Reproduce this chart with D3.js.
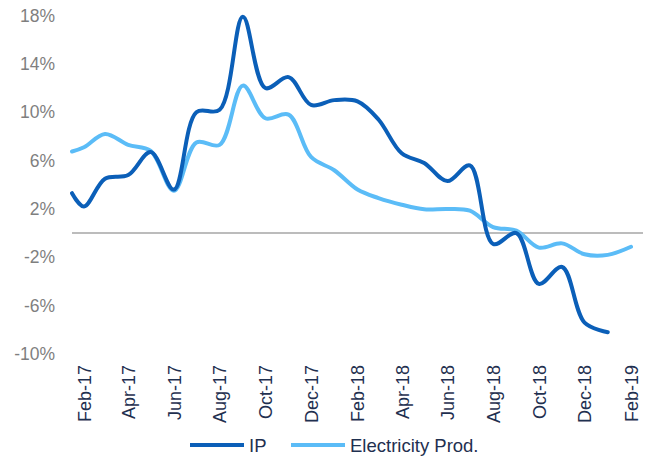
<!DOCTYPE html>
<html lang="en">
<head>
<meta charset="utf-8">
<title>IP vs Electricity Production</title>
<script src="https://cdn.jsdelivr.net/npm/d3@7"></script>
<style>
  body { margin: 0; background: #fff; }
  svg { font-family: Arial, "Liberation Sans", sans-serif; }
  .y.axis text { fill: #7f7f7f; font-size: 17.5px; }
  .x.axis text { fill: #1f3050; font-size: 18px; }
  .axis path, .axis line { display: none; }
  .legend text { fill: #1f3050; font-size: 18.5px; }
</style>
</head>
<body>
<script>
// monthly observations (first point is mid-January 2017)
var dates = ["2017-01-16","2017-02-01","2017-03-01","2017-04-01","2017-05-01","2017-06-01",
  "2017-07-01","2017-08-01","2017-09-01","2017-10-01","2017-11-01","2017-12-01",
  "2018-01-01","2018-02-01","2018-03-01","2018-04-01","2018-05-01","2018-06-01",
  "2018-07-01","2018-08-01","2018-09-01","2018-10-01","2018-11-01","2018-12-01",
  "2019-01-01","2019-02-01"];
var ip = [3.3, 2.2, 4.5, 4.8, 6.7, 3.6, 10.0, 10.2, 17.9, 12.0, 12.9, 10.6,
  11.0, 10.9, 9.4, 6.6, 5.8, 4.3, 5.6, -0.9, 0.0, -4.2, -2.8, -7.4, -8.2, null];
var elec = [6.75, 7.1, 8.2, 7.3, 6.8, 3.5, 7.5, 7.3, 12.2, 9.5, 9.8, 6.3,
  5.2, 3.6, 2.9, 2.35, 1.97, 2.0, 1.85, 0.5, 0.2, -1.2, -0.85, -1.75, -1.8, -1.13];
var yTicks = [-10, -6, -2, 2, 6, 10, 14, 18];
var xTicks = ["2017-02-01","2017-04-01","2017-06-01","2017-08-01","2017-10-01","2017-12-01",
  "2018-02-01","2018-04-01","2018-06-01","2018-08-01","2018-10-01","2018-12-01","2019-02-01"];
var seriesNames = ["IP", "Electricity Prod."];
var colors = ["#0b5fb8", "#5bbcf7"];

var width = 650, height = 458;
var parse = d3.timeParse("%Y-%m-%d");

var svg = d3.select("body").append("svg")
  .attr("width", width)
  .attr("height", height);

var x = d3.scaleTime()
  .domain([parse(dates[0]), parse(dates[dates.length - 1])])
  .range([72, 631]);
var y = d3.scaleLinear()
  .domain([-10, 18])
  .range([354, 15.5]);

// y axis labels
svg.append("g")
  .attr("class", "y axis")
  .attr("transform", "translate(60,0)")
  .call(d3.axisLeft(y).tickValues(yTicks).tickSize(0).tickPadding(5)
    .tickFormat(function(d){ return d + "%"; }));

// zero line
svg.append("line")
  .attr("x1", 72).attr("x2", 643)
  .attr("y1", y(0)).attr("y2", y(0))
  .attr("stroke", "#a6a6a6")
  .attr("stroke-width", 1.5);

// x axis labels, rotated
svg.append("g")
  .attr("class", "x axis")
  .attr("transform", "translate(0,365)")
  .call(d3.axisBottom(x).tickValues(xTicks.map(parse)).tickSize(0)
    .tickFormat(d3.timeFormat("%b-%y")))
  .selectAll("text")
    .attr("transform", "rotate(-90)")
    .attr("x", 0)
    .attr("y", 0)
    .attr("dy", "0.35em")
    .style("text-anchor", "end");

var line = d3.line()
  .defined(function(d){ return d.v != null; })
  .x(function(d){ return x(d.date); })
  .y(function(d){ return y(d.v); })
  .curve(d3.curveCatmullRom.alpha(0.5));

[elec, ip].forEach(function(vals, i){
  var pts = dates.map(function(d, j){ return {date: parse(d), v: vals[j]}; });
  svg.append("path")
    .datum(pts)
    .attr("fill", "none")
    .attr("stroke", i == 0 ? colors[1] : colors[0])
    .attr("stroke-width", 4)
    .attr("stroke-linejoin", "round")
    .attr("stroke-linecap", "round")
    .attr("d", line);
});

// legend
var legend = svg.append("g").attr("class", "legend");
var legX = [190, 291];
seriesNames.forEach(function(name, i){
  legend.append("line")
    .attr("x1", legX[i]).attr("x2", legX[i] + 54)
    .attr("y1", 445).attr("y2", 445)
    .attr("stroke", colors[i])
    .attr("stroke-width", 4);
  legend.append("text")
    .attr("x", legX[i] + 59)
    .attr("y", 451.5)
    .text(name);
});
</script>
</body>
</html>
